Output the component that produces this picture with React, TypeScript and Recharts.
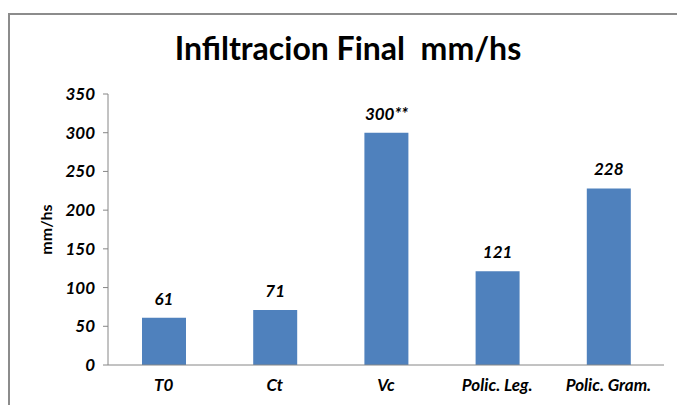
import React from 'react';
import { BarChart, Bar, XAxis, YAxis, LabelList } from 'recharts';

const categories = ['T0', 'Ct', 'Vc', 'Polic. Leg.', 'Polic. Gram.'];
const infiltration = [61, 71, 300, 121, 228];
const barLabels = ['61', '71', '300**', '121', '228'];
const yTicks = [0, 50, 100, 150, 200, 250, 300, 350];

const data = categories.map((name, i) => ({
  name,
  value: infiltration[i],
  label: barLabels[i],
}));

const FONT = 'Lato, "Open Sans", sans-serif';
const AXIS_GRAY = '#868686';
const tickStyle = { fill: '#000', fontSize: 17, fontWeight: 700, fontStyle: 'italic', fontFamily: FONT };

const App: React.FC = () => {
  return (
    <>
      <style>{'html, body { margin: 0; padding: 0; overflow: hidden; }'}</style>
      <div
        style={{
          position: 'absolute',
          boxSizing: 'border-box',
          left: 8,
          top: 13,
          width: 669,
          height: 392,
          borderTop: '2px solid #8c8c8c',
          borderLeft: '2px solid #8c8c8c',
          fontFamily: FONT,
        }}
      >
        <div
          style={{
            position: 'absolute',
            top: 13,
            left: 0,
            width: 667,
            textAlign: 'center',
            fontSize: 32,
            fontWeight: 700,
            whiteSpace: 'pre',
            color: '#000',
            paddingLeft: 9,
            boxSizing: 'border-box',
          }}
        >
          {'Infiltracion Final  mm/hs'}
        </div>
        <BarChart
          width={660}
          height={390}
          data={data}
          margin={{ top: 79, right: 6, left: 38, bottom: 10 }}
          barSize={44}
          accessibilityLayer={false}
        >
          <XAxis
            dataKey="name"
            height={30}
            tickLine={false}
            axisLine={{ stroke: AXIS_GRAY }}
            tick={tickStyle}
            tickMargin={8}
            interval={0}
          />
          <YAxis
            width={60}
            domain={[0, 350]}
            ticks={yTicks}
            interval={0}
            axisLine={{ stroke: AXIS_GRAY }}
            tickLine={{ stroke: AXIS_GRAY }}
            tickSize={5}
            tickMargin={8}
            tick={tickStyle}
            label={{
              value: 'mm/hs',
              angle: -90,
              position: 'insideLeft',
              offset: -2,
              style: { fill: '#000', fontSize: 16, fontWeight: 700, fontFamily: FONT, textAnchor: 'middle' },
            }}
          />
          <Bar dataKey="value" fill="#4F81BD" isAnimationActive={false}>
            <LabelList
              dataKey="label"
              position="top"
              offset={13}
              style={{ fill: '#000', fontSize: 17, fontWeight: 700, fontStyle: 'italic', fontFamily: FONT }}
            />
          </Bar>
        </BarChart>
      </div>
    </>
  );
};

export default App;
